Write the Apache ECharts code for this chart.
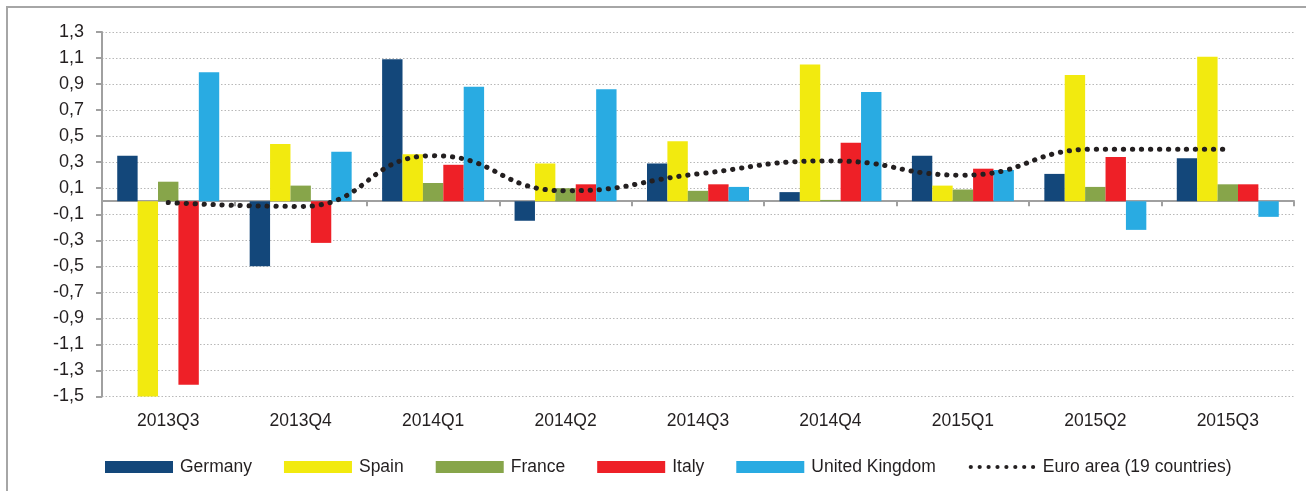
<!DOCTYPE html>
<html>
<head>
<meta charset="utf-8">
<script src="https://cdn.jsdelivr.net/npm/echarts@6/dist/echarts.min.js"></script>
<style>
html,body{margin:0;padding:0;background:#fff;}
#chart{width:1306px;height:491px;}
</style>
</head>
<body>
<div id="chart"></div>
<script>
const categories = ['2013Q3','2013Q4','2014Q1','2014Q2','2014Q3','2014Q4','2015Q1','2015Q2','2015Q3'];
const germany = [0.35, -0.50, 1.09, -0.15, 0.29, 0.07, 0.35, 0.21, 0.33];
const spain   = [-1.51, 0.44, 0.36, 0.29, 0.46, 1.05, 0.12, 0.97, 1.11];
const france  = [0.15, 0.12, 0.14, 0.10, 0.08, 0.01, 0.09, 0.11, 0.13];
const italy   = [-1.41, -0.32, 0.28, 0.13, 0.13, 0.45, 0.25, 0.34, 0.13];
const uk      = [0.99, 0.38, 0.88, 0.86, 0.11, 0.84, 0.24, -0.22, -0.12];
const euro    = [-0.01, -0.04, 0.35, 0.08, 0.21, 0.31, 0.20, 0.40, 0.40];
const seriesNames = ['Germany','Spain','France','Italy','United Kingdom','Euro area (19 countries)'];
const colors = ['#13477a','#f2ea0f','#87a54a','#ee2027','#29abe2','#231f20'];

const textColor = '#231f20';
const font = 'Liberation Sans, Arial, sans-serif';

// dotted legend icon for the euro-area line
let dots = '';
for (let k = 0; k < 8; k++) dots += '<circle cx="' + (3 + k * 8.9) + '" cy="6" r="2.1" fill="#231f20"/>';
const dotIcon = 'image://data:image/svg+xml;utf8,' + encodeURIComponent(
  '<svg xmlns="http://www.w3.org/2000/svg" width="68" height="12" viewBox="0 0 68 12">' + dots + '</svg>');

const chart = echarts.init(document.getElementById('chart'));

function bar(i, data){
  return {
    name: seriesNames[i], type: 'bar', data: data, xAxisIndex: 0, yAxisIndex: 0,
    barGap: '0%', barCategoryGap: '23%',
    itemStyle: {color: colors[i]}, z: 2
  };
}

chart.setOption({
  animation: false,
  textStyle: {fontFamily: font, color: textColor},
  graphic: [{
    type: 'rect', silent: true, z: -1,
    shape: {x: 7, y: 7, width: 1320, height: 500},
    style: {fill: 'none', stroke: '#a6a6a6', lineWidth: 2}
  }],
  grid: {left: 102, right: 12, top: 32, bottom: 94.5, containLabel: false},
  legend: {
    left: 105, top: 458, padding: 0, itemWidth: 68, itemHeight: 12, itemGap: 32,
    textStyle: {fontSize: 17.5, color: textColor, fontFamily: font, padding: [0,0,0,2]},
    data: seriesNames.map((n, i) => i < 5 ? {name: n, icon: 'rect'} : {name: n, icon: dotIcon})
  },
  xAxis: [{
    type: 'category', data: categories, position: 'bottom',
    axisLine: {onZero: true, lineStyle: {color: '#a0a0a0', width: 2}},
    axisTick: {show: true, length: 5, alignWithLabel: false, lineStyle: {color: '#a0a0a0', width: 2}},
    axisLabel: {show: false}, splitLine: {show: false}
  },{
    type: 'category', data: categories, position: 'bottom',
    axisLine: {show: false}, axisTick: {show: false},
    axisLabel: {show: true, margin: 16, fontSize: 17.5, color: textColor, fontFamily: font},
    splitLine: {show: false}
  }],
  yAxis: {
    type: 'value', min: -1.5, max: 1.3, interval: 0.2,
    axisLine: {show: true, lineStyle: {color: '#a0a0a0', width: 2}},
    axisTick: {show: true, length: 6, lineStyle: {color: '#a0a0a0', width: 2}},
    axisLabel: {
      margin: 18, fontSize: 18, color: textColor, fontFamily: font,
      formatter: v => (Math.round(v * 10) / 10).toFixed(1).replace('.', ',')
    },
    splitLine: {show: true, lineStyle: {color: '#b8b8b8', width: 1, type: [1.5, 2]}}
  },
  series: [
    bar(0, germany), bar(1, spain), bar(2, france), bar(3, italy), bar(4, uk),
    {
      name: seriesNames[5], type: 'line', data: euro, xAxisIndex: 0, yAxisIndex: 0,
      smooth: 0.5, symbol: 'none', z: 5,
      itemStyle: {color: colors[5]},
      lineStyle: {color: colors[5], width: 5, type: [0.3, 8.7], cap: 'round'}
    }
  ]
});
</script>
</body>
</html>
